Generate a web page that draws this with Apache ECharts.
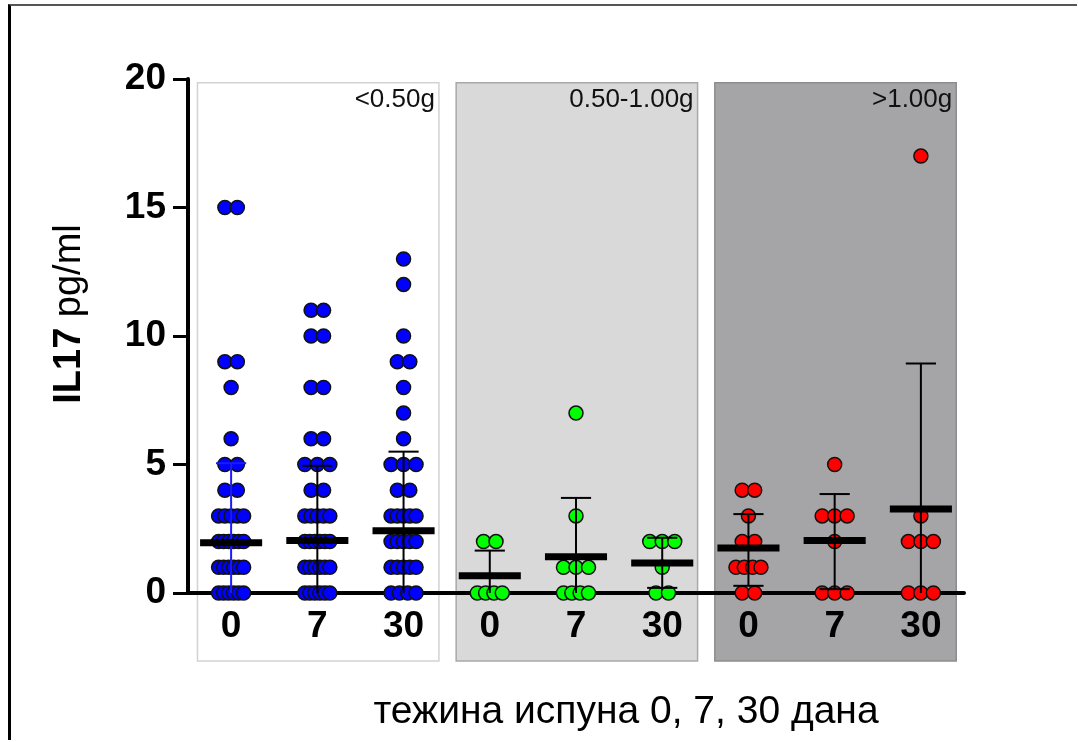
<!DOCTYPE html>
<html>
<head>
<meta charset="utf-8">
<script src="https://cdn.jsdelivr.net/npm/echarts@6/dist/echarts.min.js"></script>
<style>
html,body{margin:0;padding:0;background:#fff;overflow:hidden;}
#frame{position:absolute;left:8px;top:4px;width:1066px;height:734px;border-top:2px solid #555;border-left:3px solid #000;}
#chart{position:absolute;left:0;top:0;width:1078px;height:742px;}
</style>
</head>
<body>
<div id="frame"></div>
<div id="chart"></div>
<script>
// days per group
var categories = ['0', '7', '30', '0', '7', '30', '0', '7', '30'];
var groups = ['<0.50g', '0.50-1.00g', '>1.00g'];

// IL17 pg/ml, one list per column
var light0 = [15, 15, 9, 9, 8, 6, 5, 5, 4, 4, 3, 3, 3, 3, 3, 2, 2, 2, 2, 2, 2, 1, 1, 1, 1, 1, 1, 0, 0, 0, 0, 0, 0];
var light7 = [11, 11, 10, 10, 8, 8, 6, 6, 5, 5, 5, 4, 4, 3, 3, 3, 3, 3, 2, 2, 2, 2, 2, 2, 1, 1, 1, 1, 1, 1, 0, 0, 0, 0, 0, 0];
var light30 = [13, 12, 10, 9, 9, 8, 7, 6, 5, 5, 5, 4, 4, 3, 3, 3, 3, 3, 2, 2, 2, 2, 2, 1, 1, 1, 1, 1, 0, 0, 0, 0];
var mid0 = [2, 2, 0, 0, 0, 0];
var mid7 = [7, 3, 1, 1, 1, 0, 0, 0, 0];
var mid30 = [2, 2, 2, 1, 0, 0];
var heavy0 = [4, 4, 3, 2, 2, 1, 1, 1, 1, 0, 0];
var heavy7 = [5, 3, 3, 3, 2, 0, 0, 0];
var heavy30 = [17, 3, 2, 2, 2, 0, 0, 0];

// mean and error bar ends as drawn (0 = bar runs down to the axis)
var means = [1.96, 2.04, 2.42, 0.67, 1.41, 1.17, 1.75, 2.04, 3.27];
var upper = [5.05, 4.95, 5.5, 1.65, 3.7, 2.15, 3.07, 3.85, 8.93];
var lower = [0, 0, 0, 0, 0, 0.2, 0.28, 0.15, 0];

var FONT = '"Liberation Sans", Arial, sans-serif';

function swarm(vals, ci) {
    var counts = {}, seen = {};
    vals.forEach(function (v) { counts[v] = (counts[v] || 0) + 1; });
    return vals.map(function (v) {
        var n = counts[v];
        var k = seen[v] = (seen[v] === undefined ? 0 : seen[v] + 1);
        var spread = Math.min((n - 1) * 0.145, 0.29);
        var off = n === 1 ? 0 : -spread / 2 + spread * k / (n - 1);
        return [ci + off, v];
    });
}

var blueData = [].concat(swarm(light0, 0), swarm(light7, 1), swarm(light30, 2));
var greenData = [].concat(swarm(mid0, 3), swarm(mid7, 4), swarm(mid30, 5));
var redData = [].concat(swarm(heavy0, 6), swarm(heavy7, 7), swarm(heavy30, 8));

var errData = means.map(function (m, i) { return [i, m, upper[i], lower[i]]; });
var panelData = groups.map(function (g, i) { return [i * 3, i * 3 + 2, i]; });

var panelFill = ['#ffffff', '#d9d9d9', '#a5a5a7'];
var panelStroke = ['#d2d2d2', '#a9a9a9', '#8d8d8d'];

var myChart = echarts.init(document.getElementById('chart'));

function dots(data, color) {
    return {
        type: 'scatter',
        xAxisIndex: 1,
        data: data,
        symbolSize: 14,
        z: 3,
        animation: false,
        itemStyle: {color: color, borderColor: '#111', borderWidth: 1.5, opacity: 1}
    };
}

var option = {
    animation: false,
    textStyle: {fontFamily: FONT},
    grid: {left: 188, right: 114, top: 79, bottom: 149},
    xAxis: [{
        type: 'category',
        data: categories,
        boundaryGap: true,
        z: 2,
        axisLine: {onZero: false, lineStyle: {color: '#000', width: 4}},
        axisTick: {alignWithLabel: true, length: 9, lineStyle: {color: '#000', width: 4}},
        splitLine: {show: false},
        axisLabel: {color: '#000', fontSize: 37, fontWeight: 'bold', margin: 15, fontFamily: FONT}
    }, {
        type: 'value',
        show: false,
        min: -0.5,
        max: 8.5
    }],
    yAxis: {
        type: 'value',
        min: 0,
        max: 20,
        interval: 5,
        z: 2,
        axisLine: {show: true, onZero: false, lineStyle: {color: '#000', width: 4}},
        axisTick: {show: true, length: 15, lineStyle: {color: '#000', width: 3}},
        splitLine: {show: false},
        axisLabel: {color: '#000', fontSize: 37, fontWeight: 'bold', margin: 22, fontFamily: FONT}
    },
    graphic: [{
        type: 'text',
        x: 70,
        y: 314,
        rotation: Math.PI / 2,
        style: {
            text: '{b|IL17} pg/ml',
            rich: {b: {fontWeight: 'bold', fontSize: 38, fontFamily: FONT, fill: '#000'}},
            fontSize: 38,
            fontFamily: FONT,
            fill: '#000',
            align: 'center',
            verticalAlign: 'middle'
        }
    }, {
        type: 'text',
        x: 626,
        y: 712,
        style: {
            text: 'тежина испуна 0, 7, 30 дана',
            fontSize: 39,
            fontFamily: FONT,
            fill: '#000',
            align: 'center',
            verticalAlign: 'middle'
        }
    }],
    series: [{
        type: 'custom',
        xAxisIndex: 1,
        z: 1,
        clip: false,
        silent: true,
        data: panelData,
        renderItem: function (params, api) {
            var i = api.value(2);
            var p0 = api.coord([api.value(0) - 0.39, 19.85]);
            var p1 = api.coord([api.value(1) + 0.41, -2.65]);
            return {
                type: 'group',
                children: [{
                    type: 'rect',
                    shape: {x: p0[0], y: p0[1], width: p1[0] - p0[0], height: p1[1] - p0[1]},
                    style: {fill: panelFill[i], stroke: panelStroke[i], lineWidth: 1.5}
                }, {
                    type: 'text',
                    x: p1[0] - 4,
                    y: p0[1] + 17,
                    style: {
                        text: groups[i],
                        fontSize: 26,
                        fontFamily: FONT,
                        fill: '#111',
                        align: 'right',
                        verticalAlign: 'middle'
                    }
                }]
            };
        }
    },
    dots(blueData, '#0000ff'),
    dots(greenData, '#00ff00'),
    dots(redData, '#ff0000'),
    {
        type: 'custom',
        xAxisIndex: 1,
        z: 4,
        clip: false,
        silent: true,
        data: errData,
        renderItem: function (params, api) {
            var x = api.value(0);
            var band = api.size([1, 0])[0];
            var pm = api.coord([x, api.value(1)]);
            var ph = api.coord([x, api.value(2)]);
            var lo = api.value(3);
            var pl = api.coord([x, Math.max(lo, 0)]);
            var color = params.dataIndex === 0 ? '#1a1aff' : '#000';
            var cap = band * 0.175;
            var children = [{
                type: 'line',
                shape: {x1: pm[0], y1: ph[1], x2: pm[0], y2: pl[1]},
                style: {stroke: color, lineWidth: 2}
            }, {
                type: 'line',
                shape: {x1: pm[0] - cap, y1: ph[1], x2: pm[0] + cap, y2: ph[1]},
                style: {stroke: color, lineWidth: 2}
            }];
            if (lo > 0) {
                children.push({
                    type: 'line',
                    shape: {x1: pm[0] - cap, y1: pl[1], x2: pm[0] + cap, y2: pl[1]},
                    style: {stroke: color, lineWidth: 2}
                });
            }
            children.push({
                type: 'rect',
                shape: {x: pm[0] - band * 0.36, y: pm[1] - 3.5, width: band * 0.72, height: 7},
                style: {fill: '#000'}
            });
            return {type: 'group', children: children};
        }
    }]
};

myChart.setOption(option);
</script>
</body>
</html>
